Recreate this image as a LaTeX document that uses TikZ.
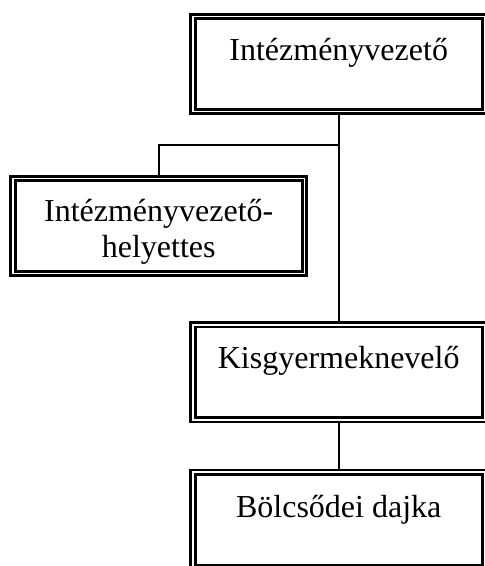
\documentclass[tikz,border=0pt]{standalone}
\usepackage{fontspec}
\setmainfont{Liberation Serif}
\usetikzlibrary{backgrounds,calc}
\begin{document}
\begin{tikzpicture}[x=1pt,y=-1pt,
  box/.style={draw=black, line width=2.8pt, double=white, double distance=1.8pt,
    rectangle, inner sep=0pt, outer sep=0pt, minimum width=291.4pt, minimum height=95pt},
  txt/.style={font=\fontsize{32}{36}\selectfont, inner sep=0pt, anchor=base, align=center},
  link/.style={line width=1.8pt, draw=black}]
\useasboundingbox (0,0) rectangle (485,566);
% boxes
\node[box] (top)  at (338.7,63.9)  {};
\node[box] (left) at (158.7,225.9) {};
\node[box] (kis)  at (338.7,372.2) {};
\node[box] (bol)  at (338.7,519.7) {};
% texts
\node[txt] (topt)  at ($(top.north)+(0,44.5)$)  {Intézményvezető};
\node[txt] (leftt) at ($(left.north)+(0,79.5)$) {Intézményvezető-\\helyettes};
\node[txt] (kist)  at ($(kis.north)+(0,43.3)$)  {Kisgyermeknevelő};
\node[txt] (bolt)  at ($(bol.north)+(0,44.8)$)  {Bölcsődei dajka};
% connectors
\begin{scope}[on background layer]
\coordinate (j) at ($(top.south)+(0,33.4)$);
\draw[link] (top.south) -- (j) -- (kis.north);
\draw[link] (j) -| (left.north);
\draw[link] (kis.south) -- (bol.north);
\end{scope}
\end{tikzpicture}
\end{document}
